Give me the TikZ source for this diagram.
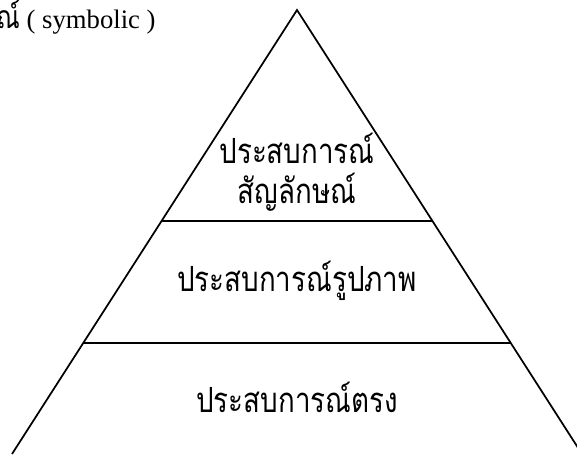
\documentclass[tikz,border=0pt]{standalone}
\usepackage{fontspec}
\usetikzlibrary{calc}
\setmainfont{Liberation Serif}
\newfontfamily\thaifont[Script=Thai]{Loma}
\newfontfamily\thaicond[Script=Thai,FakeStretch=0.8]{Loma}
\begin{document}
\begin{tikzpicture}[x=0.75pt,y=-0.75pt,
  edge/.style={line width=1.3pt, line join=miter},
  thai/.style={font=\thaicond\fontsize{26pt}{30pt}\selectfont, inner sep=0pt},
  latin/.style={font=\fontsize{20pt}{24pt}\selectfont, inner sep=0pt}]
\useasboundingbox (0,0) rectangle (577,454);
\begin{scope}
\clip (0,0) rectangle (577,454);
\coordinate (apex) at (297,10);
\coordinate (bl) at (12,454);
\coordinate (br) at (582,454);
\draw[edge] (bl) -- (apex) -- (br);
\coordinate (l1) at ($(apex)!0.476!(bl)$);
\coordinate (r1) at ($(apex)!0.476!(br)$);
\coordinate (l2) at ($(apex)!0.75!(bl)$);
\coordinate (r2) at ($(apex)!0.75!(br)$);
\draw[edge] (l1) -- (r1);
\draw[edge] (l2) -- (r2);
\node[latin, anchor=base west] (sym) at (-4,28) {{\thaicond\fontsize{24pt}{28pt}\selectfont ณ์} ( symbolic )};
\end{scope}
\node[thai, anchor=base] (t1) at (297,163) {ประสบการณ์};
\node[thai, anchor=base] (t2) at (297,203) {สัญลักษณ์};
\node[thai, anchor=base] (t3) at (297,291) {ประสบการณ์รูปภาพ};
\node[thai, anchor=base] (t4) at (297,412) {ประสบการณ์ตรง};
\end{tikzpicture}
\end{document}
